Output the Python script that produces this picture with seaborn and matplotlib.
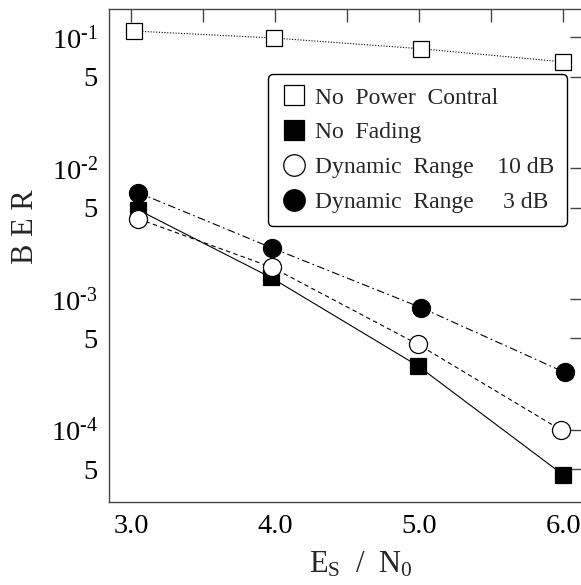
import numpy as np
import pandas as pd
import seaborn as sns
import matplotlib
matplotlib.use("Agg")
import matplotlib.pyplot as plt
from matplotlib.lines import Line2D
from matplotlib.ticker import FixedLocator, FuncFormatter

# ---- data ----
x_npc = [3.02, 3.99, 5.01, 6.00]
ber_npc = [0.112, 0.099, 0.082, 0.065]          # No Power Contral
x_nf = [3.05, 3.97, 4.99, 6.00]
ber_nf = [4.8e-3, 1.46e-3, 3.08e-4, 4.5e-5]      # No Fading
x_dr10 = [3.05, 3.98, 4.99, 5.98]
ber_dr10 = [4.1e-3, 1.74e-3, 4.5e-4, 1.0e-4]     # Dynamic Range 10 dB
x_dr3 = [3.05, 3.98, 5.01, 6.01]
ber_dr3 = [6.5e-3, 2.45e-3, 8.6e-4, 2.74e-4]     # Dynamic Range 3 dB

labels = ["No  Power  Contral", "No  Fading",
          "Dynamic  Range    10 dB", "Dynamic  Range     3 dB"]
x_ticks = [3.0, 4.0, 5.0, 6.0]
x_tick_labels = ["3.0", "4.0", "5.0", "6.0"]
y_major = [1e-1, 1e-2, 1e-3, 1e-4]
y_major_labels = [r"$10^{\text{-1}}$", r"$10^{\text{-2}}$",
                  r"$10^{\text{-3}}$", r"$10^{\text{-4}}$"]
y_minor = [5e-2, 5e-3, 5e-4, 5e-5]

sns.set_style("white")
plt.rcParams["font.family"] = ["Liberation Serif", "DejaVu Serif"]
plt.rcParams["mathtext.fontset"] = "custom"
plt.rcParams["mathtext.rm"] = "Liberation Serif"
plt.rcParams["mathtext.it"] = "Liberation Serif:italic"
plt.rcParams["mathtext.bf"] = "Liberation Serif:bold"

fig = plt.figure(figsize=(5.81, 5.85), dpi=100)
ax = fig.add_axes([0.1876, 0.1419, 0.8144, 0.8427])

series = [
    (x_npc, ber_npc, "s", "white", (0, (1, 1.5)), 11, 14),
    (x_nf, ber_nf, "s", "black", "-", 11, 14),
    (x_dr10, ber_dr10, "o", "white", (0, (4, 3)), 13, 15.5),
    (x_dr3, ber_dr3, "o", "black", (0, (7, 3, 1.5, 3)), 13, 15.5),
]
handles = []
for (xs, ys, mk, fc, ls, ms, lms), lab in zip(series, labels):
    df = pd.DataFrame({"x": xs, "y": ys})
    sns.lineplot(data=df, x="x", y="y", ax=ax, color="black", linewidth=0.8,
                 sort=False, estimator=None)
    ln = ax.lines[-1]
    ln.set_linestyle(ls)
    ln.set_marker(mk)
    ln.set_markersize(ms)
    ln.set_markerfacecolor(fc)
    ln.set_markeredgecolor("black")
    ln.set_markeredgewidth(0.9)
    handles.append(Line2D([], [], linestyle="none", marker=mk, markersize=lms,
                          markerfacecolor=fc, markeredgecolor="black",
                          markeredgewidth=0.9))

ax.set_yscale("log")
ax.set_xlim(2.847, 6.13)
ax.set_ylim(2.8e-5, 0.165)

ax.xaxis.set_major_locator(FixedLocator(x_ticks))
ax.set_xticklabels(x_tick_labels)
ax.xaxis.set_minor_locator(FixedLocator([3.5, 4.5, 5.5]))
ax.yaxis.set_major_locator(FixedLocator(y_major))
ax.yaxis.set_major_formatter(FuncFormatter(
    lambda v, p: y_major_labels[int(round(-np.log10(v))) - 1]))
ax.yaxis.set_minor_locator(FixedLocator(y_minor))
ax.yaxis.set_minor_formatter(FuncFormatter(lambda v, p: "5"))

spine_c = "#444444"
for s in ax.spines.values():
    s.set_color(spine_c)
    s.set_linewidth(1.0)
ax.tick_params(which="both", direction="in", top=True, right=True,
               length=9, width=1.0, color=spine_c, labelsize=20.5,
               labelcolor="black")
ax.tick_params(axis="x", which="both", pad=9)
ax.tick_params(axis="y", which="both", pad=8)

ax.set_xlabel(r"$\mathrm{E_S\ \ /\ \ N_0}$", fontsize=22)
ax.xaxis.set_label_coords(0.532, -0.098)
ax.set_ylabel("B E R", fontsize=22)
ax.yaxis.set_label_coords(-0.145, 0.558)

leg = ax.legend(handles, labels, loc="upper right",
                bbox_to_anchor=(0.968, 0.868), fontsize=17,
                frameon=True, fancybox=True, edgecolor="black",
                handletextpad=0.33, handlelength=1.1, labelspacing=0.56,
                borderpad=0.55, borderaxespad=0)
leg.get_frame().set_linewidth(1.0)
leg.get_frame().set_alpha(1)

fig.savefig("out.png", dpi=100)
